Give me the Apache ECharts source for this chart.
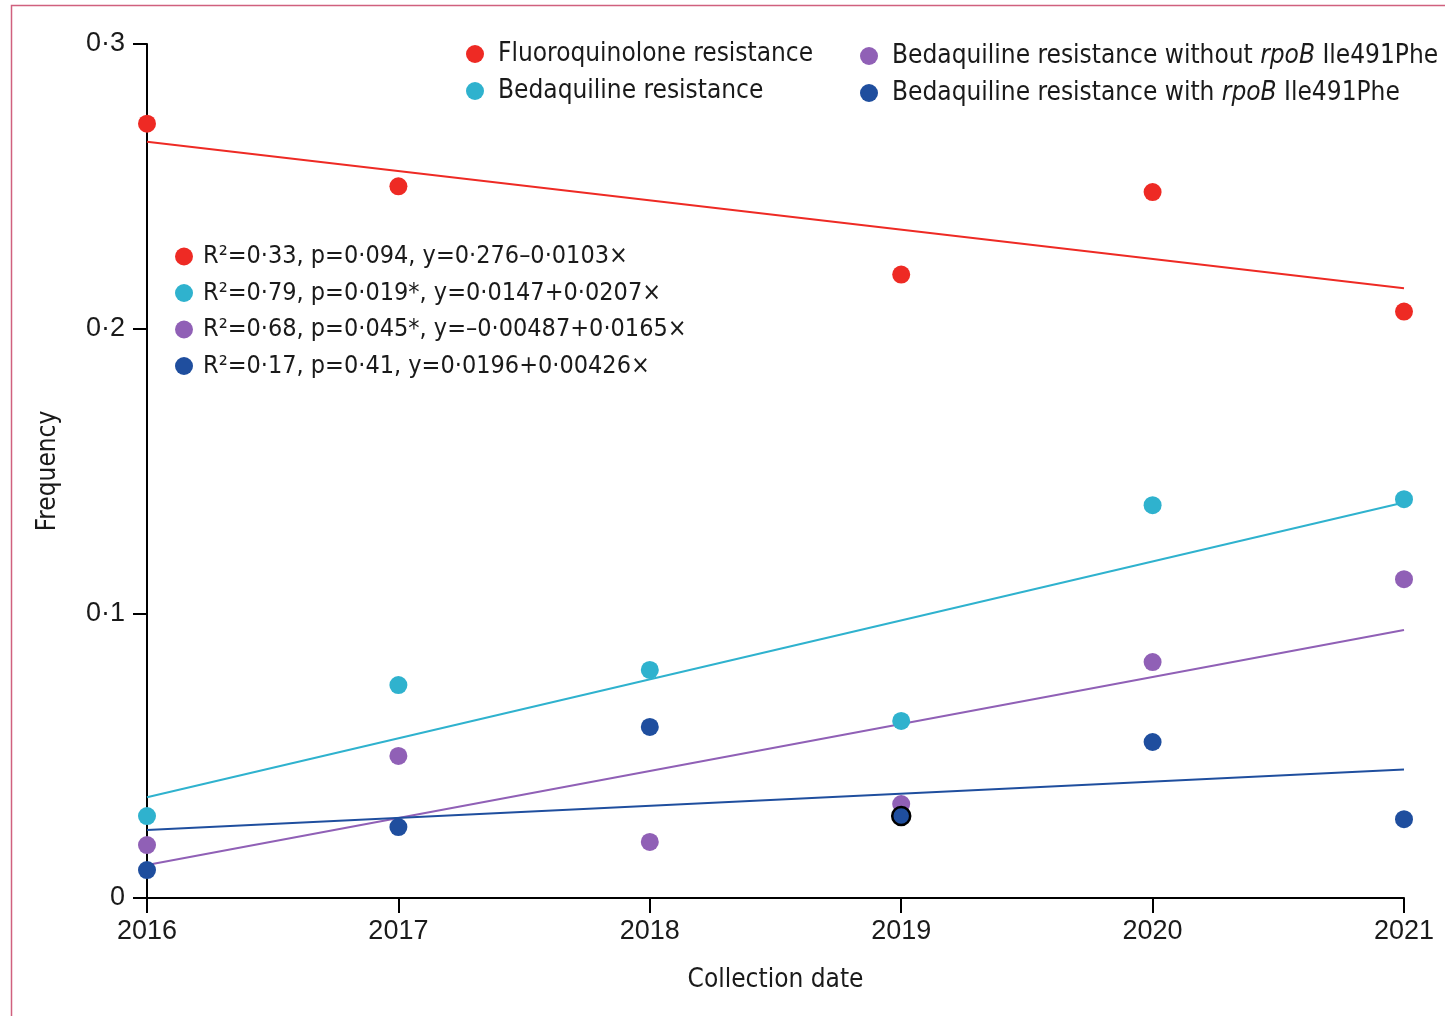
<!DOCTYPE html>
<html>
<head>
<meta charset="utf-8">
<script src="https://cdn.jsdelivr.net/npm/echarts@6/dist/echarts.min.js"></script>
<style>
  html, body { margin: 0; padding: 0; background: #fff; }
  #chart { width: 1445px; height: 1016px; }
</style>
</head>
<body>
<div id="chart"></div>
<script>
// collection years
var years = [2016, 2017, 2018, 2019, 2020, 2021];

// observed frequencies (null = no point drawn)
var fluoroquinolone = [0.272, 0.250, null, 0.219, 0.248, 0.206];
var bedaquiline = [0.0288, 0.0748, 0.0801, 0.0622, 0.138, 0.1401];
var bdqWithoutRpoB = [0.0186, 0.0499, 0.0197, 0.0330, 0.0829, 0.1120];
var bdqWithRpoB = [0.0098, 0.0249, 0.0601, 0.0288, 0.0548, 0.0277];

// fitted line endpoints (2016, 2021), from the printed equations
var fitYears = [2016, 2021];
var fqFit = [0.2657, 0.2142];
var bdqFit = [0.0354, 0.1389];
var withoutFit = [0.01163, 0.09413];
var withFit = [0.02386, 0.04516];

var fitLabels = [
    'R²=0·33, p=0·094, y=0·276–0·0103×',
    'R²=0·79, p=0·019*, y=0·0147+0·0207×',
    'R²=0·68, p=0·045*, y=–0·00487+0·0165×',
    'R²=0·17, p=0·41, y=0·0196+0·00426×'
];

var names = [
    'Fluoroquinolone resistance',
    'Bedaquiline resistance',
    'Bedaquiline resistance without rpoB Ile491Phe',
    'Bedaquiline resistance with rpoB Ile491Phe'
];

var colors = ['#ee2a24', '#2fb2ce', '#9060b6', '#1f4e9e'];
var FONT = '"Liberation Sans Narrow", "DejaVu Sans Condensed", sans-serif';
var NUMFONT = '"Liberation Sans", Arial, sans-serif';
var TXT = '#1a1a1a';

function pairs(xs, ys) {
    return xs.map(function (x, i) { return [x, ys[i]]; });
}

function scatter(name, vals, color) {
    return {
        name: name,
        type: 'scatter',
        symbolSize: 18,
        z: 5,
        itemStyle: { color: color, opacity: 1 },
        data: pairs(years, vals).filter(function (p) { return p[1] !== null; })
    };
}

function fit(name, vals, color) {
    return {
        name: name,
        type: 'line',
        symbol: 'none',
        z: 3,
        color: color,
        itemStyle: { color: color },
        lineStyle: { color: color, width: 2 },
        data: pairs(fitYears, vals)
    };
}

var withPts = scatter(names[3], bdqWithRpoB, colors[3]);
// 2019 point is outlined in the original
withPts.data = withPts.data.map(function (p) {
    if (p[0] === 2019) {
        return { value: p, itemStyle: { borderColor: '#000', borderWidth: 2.5 } };
    }
    return p;
});

var chart = echarts.init(document.getElementById('chart'));
chart.setOption({
    animation: false,
    backgroundColor: '#fff',
    textStyle: { fontFamily: FONT, color: TXT },
    graphic: [{
        type: 'rect',
        shape: { x: 11.5, y: 5.5, width: 1500, height: 1100 },
        style: { fill: 'none', stroke: '#d0607e', lineWidth: 1.5 },
        silent: true
    }],
    grid: { left: 147, right: 41, top: 44, bottom: 118 },
    legend: [{
        orient: 'vertical',
        left: 461, top: 36,
        selectedMode: false,
        icon: 'circle', itemWidth: 18, itemHeight: 18, itemGap: 11,
        textStyle: { fontFamily: FONT, fontSize: 26, color: TXT, padding: [0, 0, 0, 9] },
        data: [names[0], names[1]]
    }, {
        orient: 'vertical',
        left: 855, top: 38,
        selectedMode: false,
        icon: 'circle', itemWidth: 18, itemHeight: 18, itemGap: 11,
        formatter: function (n) {
            var parts = n.split(' rpoB ');
            return '{n|' + parts[0] + ' }{i|rpoB}{n| ' + parts[1] + '}';
        },
        textStyle: {
            fontFamily: FONT, fontSize: 26, color: TXT, padding: [0, 0, 0, 9],
            rich: {
                n: { fontFamily: FONT, fontSize: 26, color: TXT },
                i: { fontFamily: FONT, fontSize: 26, color: TXT, fontStyle: 'italic' }
            }
        },
        data: [names[2], names[3]]
    }, {
        orient: 'vertical',
        left: 170, top: 239,
        selectedMode: false,
        icon: 'circle', itemWidth: 18, itemHeight: 18, itemGap: 11.5,
        itemStyle: { borderWidth: 0 },
        textStyle: { fontFamily: FONT, fontSize: 25, color: TXT, padding: [0, 0, 0, 5] },
        data: fitLabels.map(function (l) { return { name: l, icon: 'circle' }; })
    }],
    xAxis: {
        type: 'value',
        min: 2016, max: 2021, interval: 1,
        name: 'Collection date',
        nameLocation: 'middle', nameGap: 69,
        nameTextStyle: { fontFamily: FONT, fontSize: 26, color: TXT },
        axisLine: { lineStyle: { color: '#000', width: 2 } },
        axisTick: { show: true, length: 15, lineStyle: { color: '#000', width: 2 } },
        axisLabel: {
            fontFamily: NUMFONT, fontSize: 27, color: TXT, margin: 20,
            formatter: function (v) { return String(v); }
        },
        splitLine: { show: false }
    },
    yAxis: {
        type: 'value',
        min: 0, max: 0.3, interval: 0.1,
        name: 'Frequency',
        nameLocation: 'middle', nameGap: 86, nameRotate: 90,
        nameTextStyle: { fontFamily: FONT, fontSize: 26, color: TXT },
        axisLine: { show: true, onZero: false, lineStyle: { color: '#000', width: 2 } },
        axisTick: { show: true, length: 14, lineStyle: { color: '#000', width: 2 } },
        axisLabel: {
            fontFamily: NUMFONT, fontSize: 27, color: TXT, margin: 22,
            formatter: function (v) { return v === 0 ? '0' : v.toFixed(1).replace('.', '·'); }
        },
        splitLine: { show: false }
    },
    series: [
        scatter(names[0], fluoroquinolone, colors[0]),
        scatter(names[1], bedaquiline, colors[1]),
        scatter(names[2], bdqWithoutRpoB, colors[2]),
        withPts,
        fit(fitLabels[0], fqFit, colors[0]),
        fit(fitLabels[1], bdqFit, colors[1]),
        fit(fitLabels[2], withoutFit, colors[2]),
        fit(fitLabels[3], withFit, colors[3])
    ]
});
</script>
</body>
</html>
